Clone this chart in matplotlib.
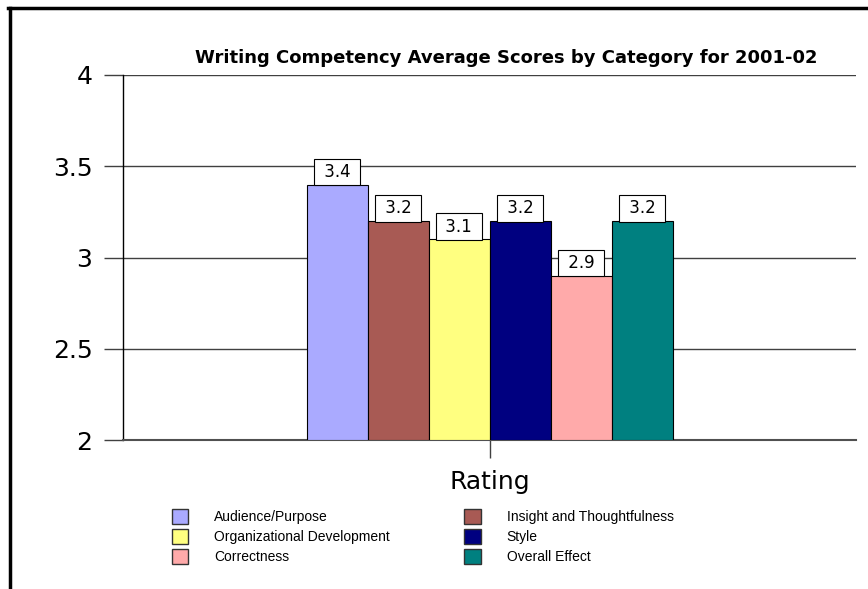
import matplotlib
matplotlib.use("Agg")
import matplotlib.pyplot as plt
from matplotlib.lines import Line2D
from matplotlib.patches import Patch

plt.rcParams['font.family'] = ['DejaVu Sans']

categories = ['Audience/Purpose', 'Insight and Thoughtfulness', 'Organizational Development',
              'Style', 'Correctness', 'Overall Effect']
scores = [3.4, 3.2, 3.1, 3.2, 2.9, 3.2]
colors = ['#aaaaff', '#a85a54', '#ffff80', '#000080', '#ffaaaa', '#008080']
legend_order = [0, 2, 4, 1, 3, 5]

W, H = 868, 589
fig = plt.figure(figsize=(W / 100, H / 100), dpi=100)
ax = fig.add_axes([123 / W, 1 - 440 / H, (856 - 123) / W, (440 - 75) / H])

bw = 61 / 733
xs = [(i - 2.5) * bw for i in range(len(scores))]
bars = ax.bar(xs, [s - 2 for s in scores], bottom=2, width=bw, color=colors,
              edgecolor='black', linewidth=0.8, zorder=3)

for x, s in zip(xs, scores):
    ax.annotate(f' {s:.1f} ', (x, s), xytext=(0, 2.6), textcoords='offset points',
                ha='center', va='bottom', fontsize=12, zorder=4,
                bbox=dict(boxstyle='square,pad=0.25', fc='white', ec='black', lw=0.8))

ax.set_xlim(-0.5, 0.5)
ax.set_ylim(2, 4)
ax.set_yticks([2, 2.5, 3, 3.5, 4])
ax.set_yticklabels(['2', '2.5', '3', '3.5', '4'], fontsize=18)
ax.set_xticks([0])
ax.set_xticklabels([''])
ax.tick_params(axis='y', length=14, width=1, color='#404040', pad=8)
ax.tick_params(axis='x', length=13, width=1, color='#404040')
ax.grid(axis='y', color='#404040', linewidth=1, zorder=0)
for side in ['top', 'right']:
    ax.spines[side].set_visible(False)
ax.spines['left'].set_color('black')
ax.spines['left'].set_linewidth(1)
ax.spines['bottom'].set_color('#505050')
ax.spines['bottom'].set_linewidth(1.5)
ax.set_xlabel('Rating', fontsize=18, labelpad=5)

fig.text(506 / W, 1 - 58 / H, 'Writing Competency Average Scores by Category for 2001-02',
         ha='center', va='center', fontsize=13, fontweight='bold')

handles = [Patch(facecolor=colors[i], edgecolor='#333333', label=categories[i]) for i in legend_order]
fig.legend(handles=handles, ncol=2, loc='upper left', bbox_to_anchor=(159 / W, 1 - 497 / H),
           frameon=False, prop={'family': 'Liberation Sans', 'size': 10},
           handlelength=1.22, handleheight=1.22,
           handletextpad=1.87, columnspacing=5.3, labelspacing=0.36)

# outer frame
fig.add_artist(Line2D([9.5 / W, 9.5 / W], [0, 1 - 7.5 / H], color='black', lw=2.5,
                      transform=fig.transFigure))
fig.add_artist(Line2D([8 / W, 1], [1 - 7.5 / H, 1 - 7.5 / H], color='black', lw=2.5,
                      transform=fig.transFigure))

fig.savefig('out.png', dpi=100)
